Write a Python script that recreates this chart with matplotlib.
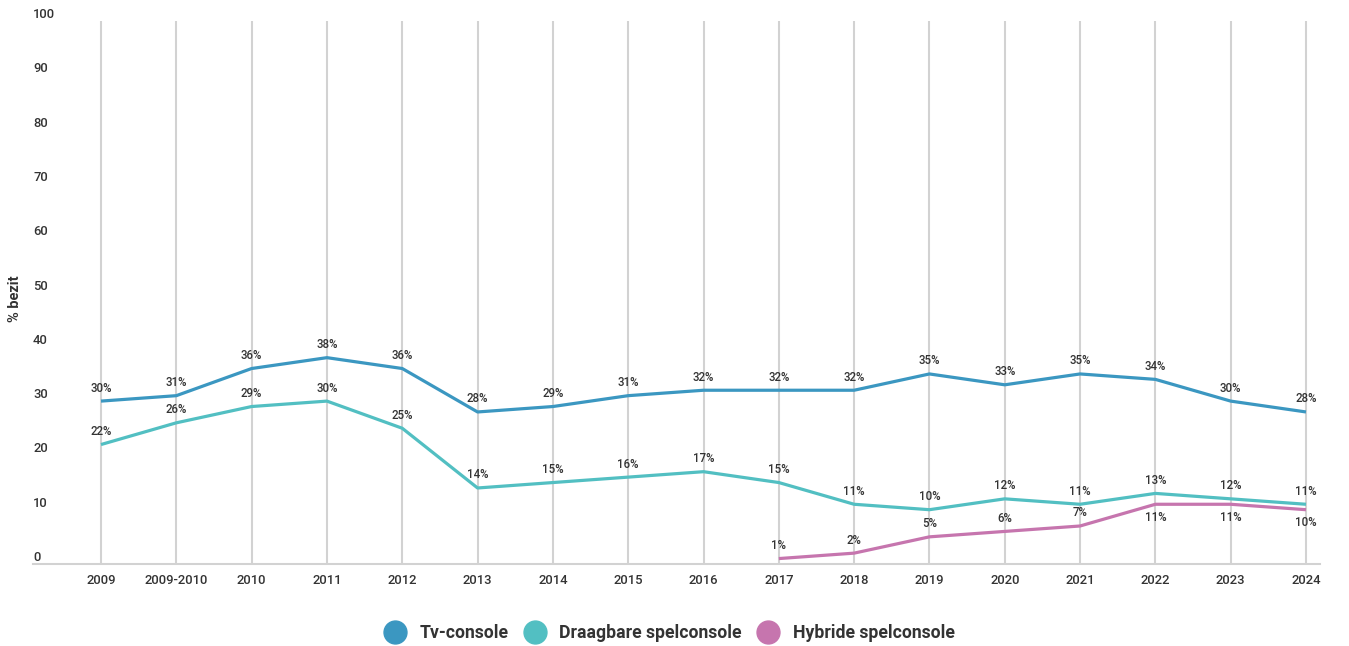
import numpy as np
import matplotlib
matplotlib.use("Agg")
import matplotlib.pyplot as plt
from matplotlib.lines import Line2D

plt.rcParams['font.family'] = ['Roboto', 'DejaVu Sans']

categories = ["2009", "2009-2010", "2010", "2011", "2012", "2013", "2014", "2015",
              "2016", "2017", "2018", "2019", "2020", "2021", "2022", "2023", "2024"]
tv_console = [30, 31, 36, 38, 36, 28, 29, 31, 32, 32, 32, 35, 33, 35, 34, 30, 28]
draagbare = [22, 26, 29, 30, 25, 14, 15, 16, 17, 15, 11, 10, 12, 11, 13, 12, 11]
hybride = [np.nan] * 9 + [1, 2, 5, 6, 7, 11, 11, 10]
y_ticks = [0, 10, 20, 30, 40, 50, 60, 70, 80, 90, 100]

series = [
    ("Tv-console", tv_console, "#3b97c1"),
    ("Draagbare spelconsole", draagbare, "#52bfc2"),
    ("Hybride spelconsole", hybride, "#c675ae"),
]
below_hybride = {"2022", "2023", "2024"}

W, H = 1349, 646
fig = plt.figure(figsize=(W / 100, H / 100), dpi=100)
left_px, right_px, base_px, top_px = 33, 1320, 564, 21
ax = fig.add_axes([left_px / W, 1 - base_px / H, (right_px - left_px) / W, (base_px - top_px) / H])

x = np.arange(len(categories))
spacing = 75.31
ax.set_xlim(-(101 - left_px) / spacing, 16 + (right_px - 1306) / spacing)
ax.set_ylim(0, 100)

txt = "#333333"
for name, vals, col in series:
    ax.plot(x, vals, color=col, lw=2.3, solid_capstyle='butt', zorder=3)
    for xi, cat, v in zip(x, categories, vals):
        if np.isnan(v):
            continue
        below = (name == "Hybride spelconsole" and cat in below_hybride)
        ax.annotate(f"{int(v)}%", (xi, v), xytext=(0, -13 if below else 13),
                    textcoords="offset pixels",
                    ha="center", va="center", fontsize=8.3, fontweight="medium",
                    color=txt, zorder=4)

ax.set_xticks(x)
ax.set_xticklabels(categories)
ax.set_yticks(y_ticks)
ax.set_yticklabels([str(t) for t in y_ticks])
ax.grid(axis='x', color="#d2d2d2", lw=1.5, zorder=0)
ax.grid(axis='y', visible=False)
for s in ["top", "right", "left"]:
    ax.spines[s].set_visible(False)
ax.spines["bottom"].set_color("#d2d2d2")
ax.spines["bottom"].set_linewidth(1.5)
ax.tick_params(axis='x', length=0, pad=7, labelsize=9.4, labelcolor=txt)
ax.tick_params(axis='y', length=0, pad=0, labelsize=9.4, labelcolor=txt)
for lab in ax.get_xticklabels():
    lab.set_fontweight("medium")
for lab in ax.get_yticklabels():
    lab.set_horizontalalignment("left")
    lab.set_verticalalignment("bottom")
    lab.set_fontweight("medium")

fig.text(15 / W, 1 - 299 / H, "% bezit", rotation=90, ha="center", va="center",
         fontsize=10.5, fontweight="semibold", color=txt)

handles = [Line2D([], [], marker='o', ls='none', markersize=16.5, markerfacecolor=c,
                  markeredgecolor=c) for _, _, c in series]
fig.legend(handles, [n for n, _, _ in series], loc="center",
           bbox_to_anchor=(669 / W, 1 - 633 / H), ncol=3, frameon=False,
           handletextpad=0.75, columnspacing=0.85, handlelength=1.3,
           prop={"size": 12.7, "weight": "bold"}, labelcolor=txt)

fig.savefig("out.png", dpi=100)
